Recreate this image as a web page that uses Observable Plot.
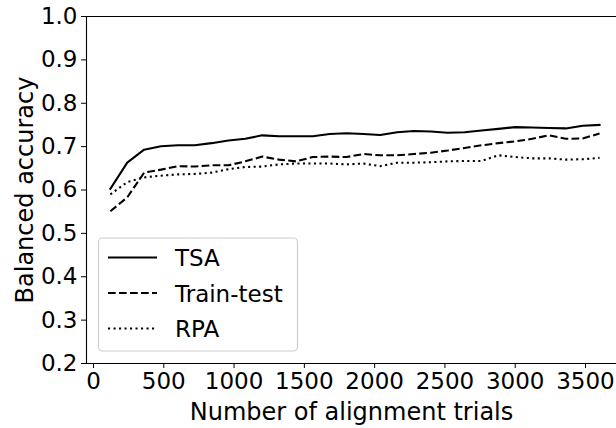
<!DOCTYPE html>
<html>
<head>
<meta charset="utf-8">
<script src="https://cdn.jsdelivr.net/npm/d3@7"></script>
<script src="https://cdn.jsdelivr.net/npm/@observablehq/plot@0.6"></script>
<style>
  html, body { margin: 0; padding: 0; background: white; }
  #chart svg { display: block; }
</style>
</head>
<body>
<div id="chart"></div>
<script>
const trials = [120, 240, 360, 480, 600, 720, 840, 960, 1080, 1200,
                1320, 1440, 1560, 1680, 1800, 1920, 2040, 2160, 2280, 2400,
                2520, 2640, 2760, 2880, 3000, 3120, 3240, 3360, 3480, 3600];
const tsa = [0.603, 0.663, 0.693, 0.701, 0.703, 0.703, 0.708, 0.714, 0.718, 0.726,
             0.724, 0.724, 0.724, 0.729, 0.731, 0.729, 0.727, 0.733, 0.736, 0.735,
             0.732, 0.733, 0.737, 0.741, 0.745, 0.744, 0.743, 0.742, 0.748, 0.750];
const trainTest = [0.551, 0.583, 0.640, 0.647, 0.655, 0.654, 0.657, 0.657, 0.666, 0.677,
                   0.670, 0.666, 0.676, 0.677, 0.676, 0.683, 0.680, 0.680, 0.683, 0.686,
                   0.691, 0.697, 0.703, 0.708, 0.712, 0.718, 0.726, 0.718, 0.719, 0.730];
const rpa = [0.590, 0.618, 0.629, 0.633, 0.636, 0.637, 0.640, 0.648, 0.653, 0.654,
             0.659, 0.661, 0.661, 0.661, 0.659, 0.661, 0.655, 0.663, 0.663, 0.664,
             0.666, 0.667, 0.667, 0.680, 0.676, 0.673, 0.673, 0.670, 0.671, 0.674];
const seriesNames = ["TSA", "Train-test", "RPA"];
const xTicks = [0, 500, 1000, 1500, 2000, 2500, 3000, 3500];
const yTicks = [0.2, 0.3, 0.4, 0.5, 0.6, 0.7, 0.8, 0.9, 1.0];
const xLabel = "Number of alignment trials";
const yLabel = "Balanced accuracy";

const dashes = {"TSA": null, "Train-test": "7.7,3.3", "RPA": "2.1,3.4"};
const seriesValues = [tsa, trainTest, rpa];
const rows = seriesNames.map((name, i) => trials.map((t, j) => ({name, trials: t, acc: seriesValues[i][j]})));

const xDomain = [-49.8, 3720.6];
const yDomain = [0.2, 1.0];
const lw = 2.08;
const fs = 23;
const lfs = 24;

const lineMarks = rows.map((data, i) => Plot.line(data, {
  x: "trials", y: "acc", stroke: "black", strokeWidth: lw,
  strokeDasharray: dashes[seriesNames[i]] || undefined,
  strokeLinecap: dashes[seriesNames[i]] ? "butt" : "square",
  strokeLinejoin: "round"
}));

const chart = Plot.plot({
  width: 616,
  height: 428,
  marginLeft: 86,
  marginRight: 0,
  marginTop: 16,
  marginBottom: 65,
  style: {fontFamily: "DejaVu Sans", fontSize: fs + "px", color: "black", background: "white"},
  x: {domain: xDomain},
  y: {domain: yDomain},
  marks: [
    Plot.axisX({ticks: xTicks, tickSize: 5, tickPadding: 4, fontSize: fs, tickFormat: d3.format("d"), label: null}),
    Plot.axisX({ticks: [], fontSize: lfs, label: xLabel, labelAnchor: "center", labelArrow: "none", labelOffset: 56}),
    Plot.axisY({ticks: yTicks, tickSize: 5, tickPadding: 4, fontSize: fs, tickFormat: d3.format(".1f"), label: null}),
    Plot.axisY({ticks: [], fontSize: lfs, label: yLabel, labelAnchor: "center", labelArrow: "none", labelOffset: 71}),
    ...lineMarks,
    Plot.ruleX([xDomain[0]], {stroke: "black", strokeWidth: 1.1}),
    Plot.ruleY([yDomain[0], yDomain[1]], {stroke: "black", strokeWidth: 1.1})
  ]
});

// legend (lower left, matplotlib style)
const svg = d3.select(chart);
const lg = svg.append("g").attr("font-family", "DejaVu Sans").attr("font-size", fs).attr("text-anchor", "start");
lg.append("rect").attr("x", 98.5).attr("y", 238).attr("width", 199).attr("height", 113)
  .attr("rx", 4).attr("fill", "white").attr("fill-opacity", 0.8).attr("stroke", "#cccccc").attr("stroke-width", 1.1);
const rowY = [257.5, 293, 328.5];
seriesNames.forEach((name, i) => {
  lg.append("line").attr("x1", 108).attr("x2", 157).attr("y1", rowY[i]).attr("y2", rowY[i])
    .attr("stroke", "black").attr("stroke-width", lw)
    .attr("stroke-dasharray", dashes[name] || null);
  lg.append("text").attr("x", 175).attr("y", rowY[i] + 8.5).attr("fill", "black").text(name);
});

document.getElementById("chart").appendChild(chart);
</script>
</body>
</html>
